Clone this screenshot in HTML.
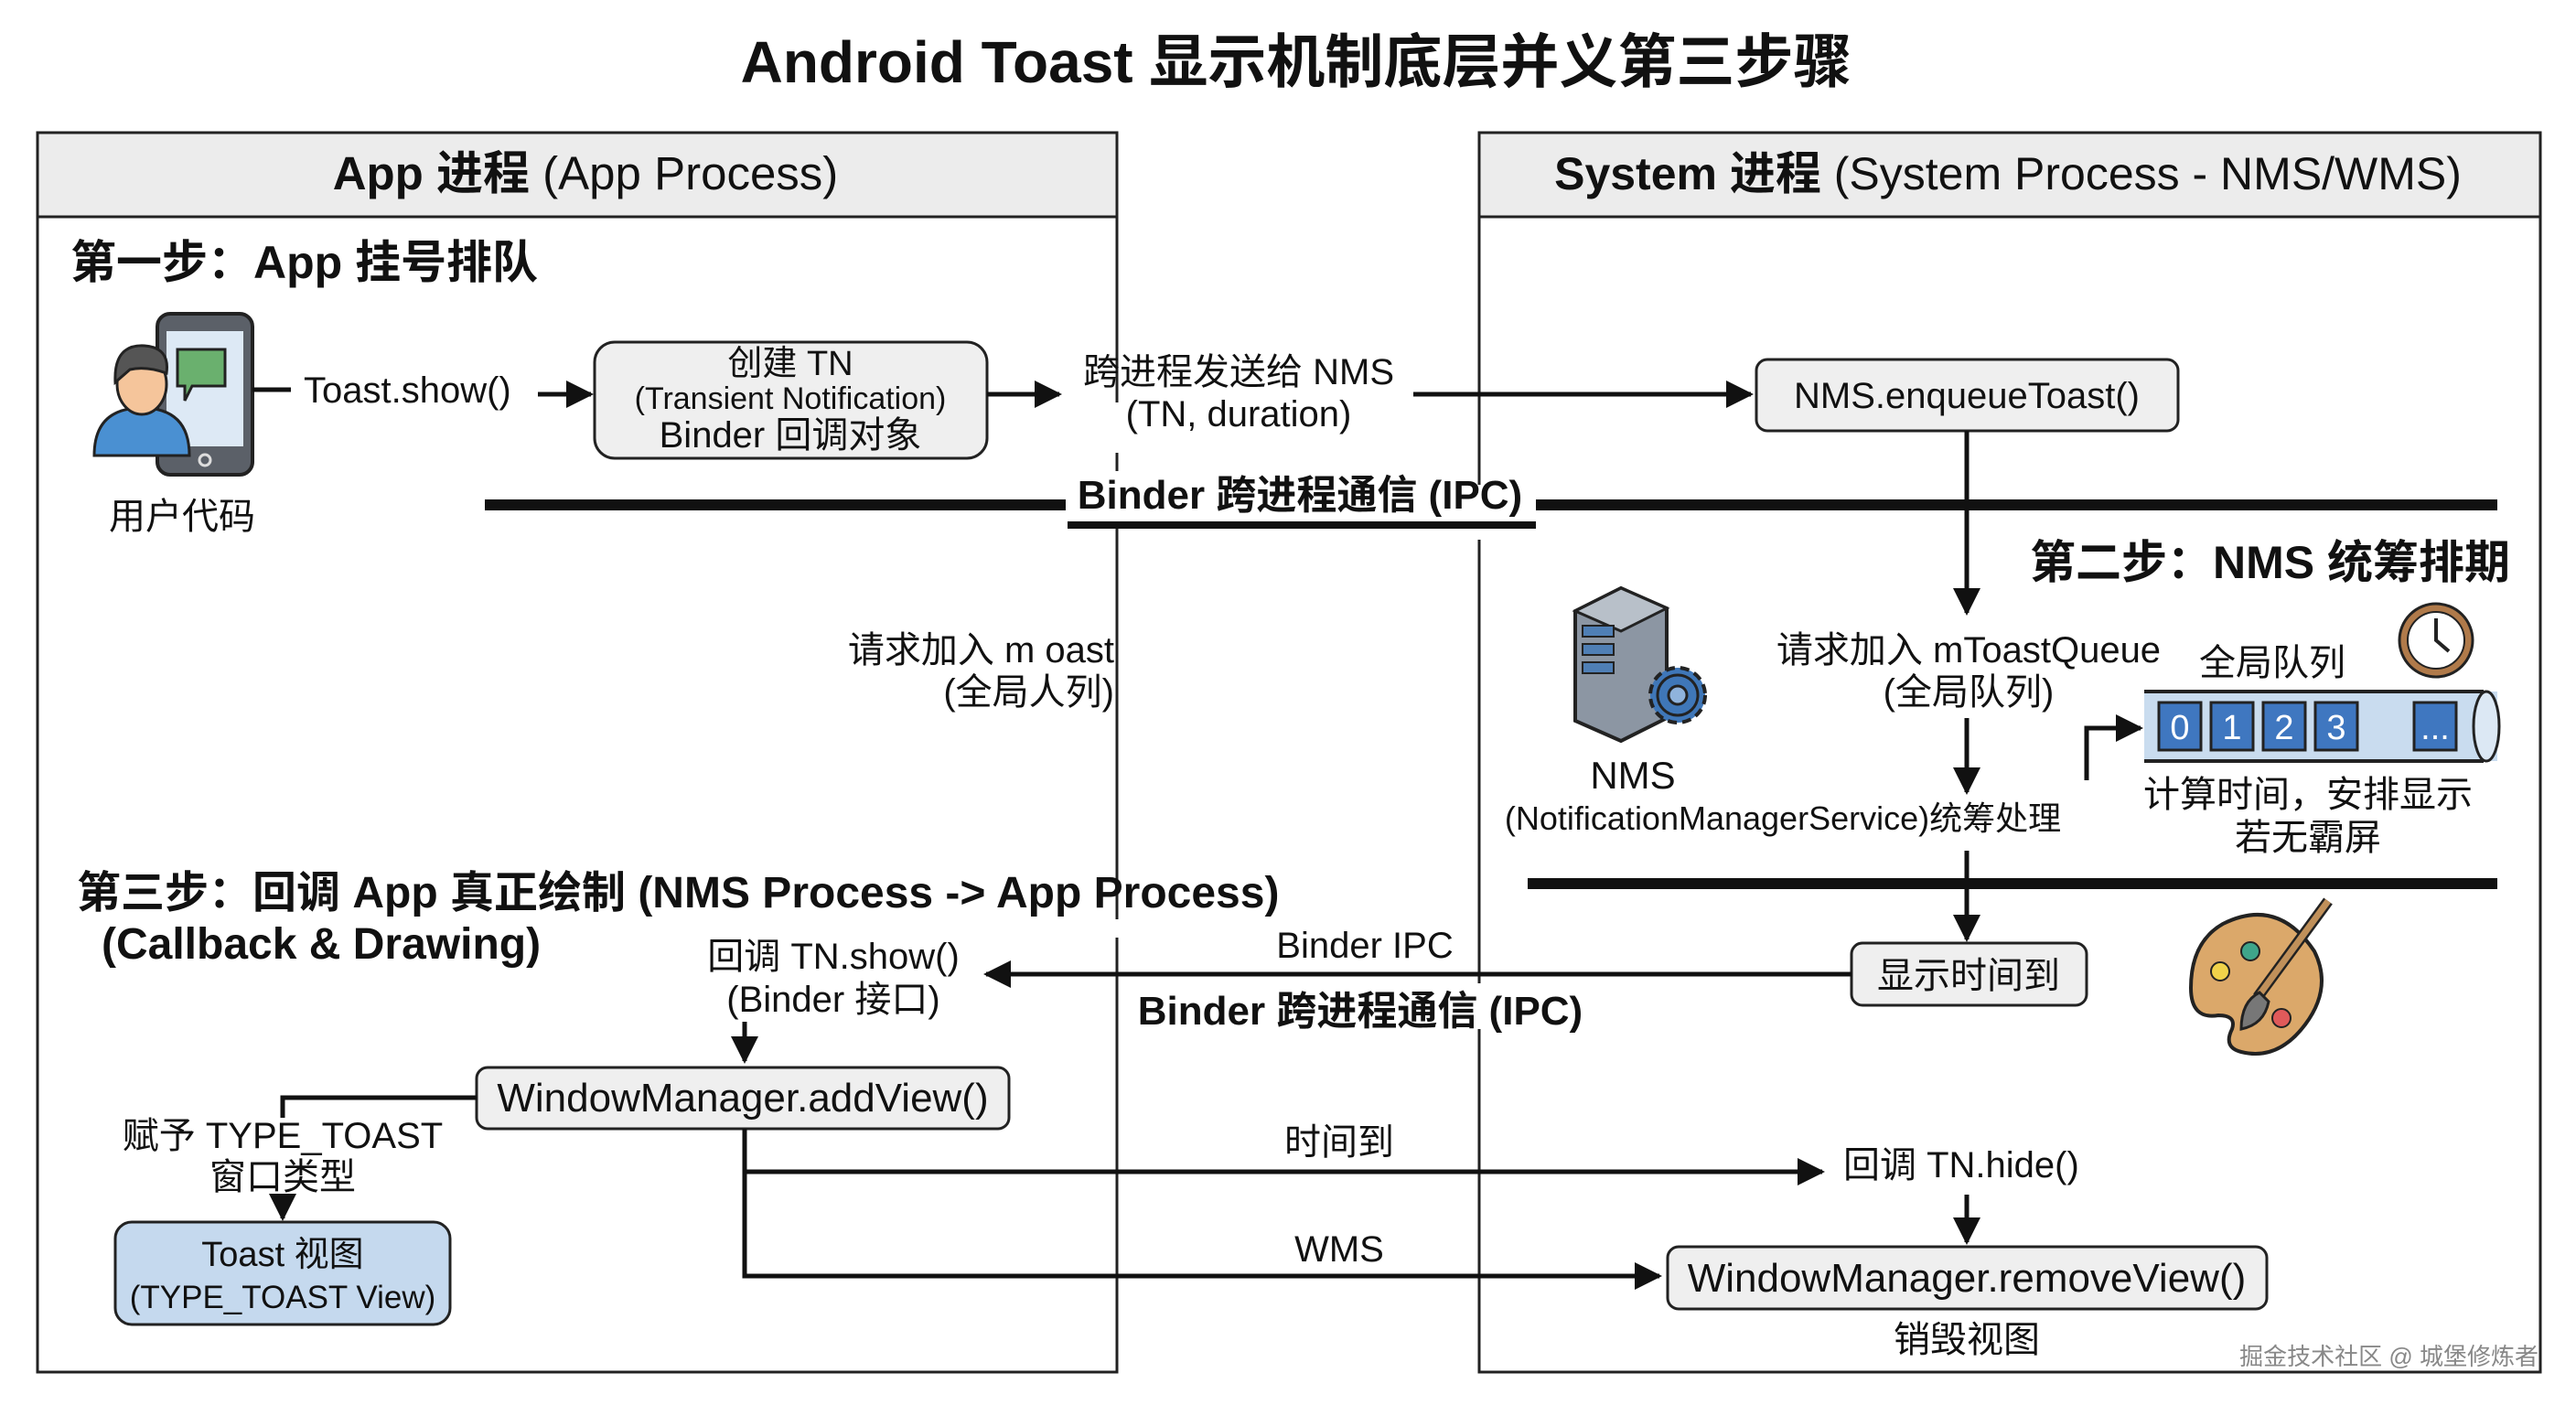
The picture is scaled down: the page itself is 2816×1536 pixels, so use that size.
<!DOCTYPE html>
<html><head><meta charset="utf-8"><style>
html,body{margin:0;padding:0;background:#fff;}
svg{display:block;}
text{font-family:"Liberation Sans","Noto Sans CJK SC",sans-serif;fill:#111;}
.b{font-weight:bold;}
</style></head><body>
<svg width="2816" height="1536" viewBox="0 0 2816 1536" xmlns="http://www.w3.org/2000/svg">
<defs>
<marker id="ah" viewBox="0 0 10 10" refX="9" refY="5" markerWidth="6" markerHeight="6" orient="auto-start-reverse" markerUnits="strokeWidth"><path d="M0,0 L10,5 L0,10 z" fill="#111"/></marker>
</defs>
<rect width="2816" height="1536" fill="#fff"/>
<text x="1417" y="90" font-size="64" class="b" text-anchor="middle">Android Toast 显示机制底层并义第三步骤</text>

<rect x="41" y="145" width="1180" height="1355" fill="#fff" stroke="#222" stroke-width="3"/>
<rect x="41" y="145" width="1180" height="92" fill="#ececec" stroke="#222" stroke-width="3"/>
<rect x="1617" y="145" width="1160" height="1355" fill="#fff" stroke="#222" stroke-width="3"/>
<rect x="1617" y="145" width="1160" height="92" fill="#ececec" stroke="#222" stroke-width="3"/>
<rect x="1212" y="440" width="18" height="55" fill="#fff"/>
<rect x="1212" y="515" width="18" height="60" fill="#fff"/>
<rect x="1212" y="1005" width="18" height="20" fill="#fff"/>
<rect x="1608" y="530" width="18" height="60" fill="#fff"/>
<rect x="1608" y="1075" width="18" height="50" fill="#fff"/>

<text x="640" y="207" font-size="51" text-anchor="middle"><tspan class="b">App 进程</tspan> (App Process)</text>
<text x="2195" y="207" font-size="50" text-anchor="middle"><tspan class="b">System 进程</tspan> (System Process - NMS/WMS)</text>

<text x="77" y="304" font-size="50" class="b">第一步：App 挂号排队</text>

<rect x="172" y="343" width="104" height="176" rx="14" fill="#5b6068" stroke="#222" stroke-width="4"/>
<rect x="182" y="362" width="84" height="126" fill="#dde9f5"/>
<circle cx="224" cy="503" r="6" fill="none" stroke="#ddd" stroke-width="3"/>
<path d="M194,382 h52 v40 h-36 l-8,16 v-16 h-8 z" fill="#6ab06e" stroke="#222" stroke-width="3"/>
<path d="M103,498 q0,-52 52,-52 q52,0 52,52 z" fill="#4a90d2" stroke="#222" stroke-width="3"/>
<ellipse cx="155" cy="420" rx="27" ry="33" fill="#f5c59b" stroke="#222" stroke-width="3"/>
<path d="M126,418 q-2,-42 32,-40 q28,2 24,30 q-22,-8 -40,-4 z" fill="#555" stroke="#222" stroke-width="3"/>
<text x="199" y="578" font-size="40" text-anchor="middle">用户代码</text>

<line x1="276" y1="426" x2="318" y2="426" stroke="#111" stroke-width="5"/>
<text x="332" y="440" font-size="40">Toast.show()</text>
<line x1="588" y1="431" x2="646" y2="431" stroke="#111" stroke-width="5" marker-end="url(#ah)"/>
<rect x="650" y="374" width="429" height="127" rx="22" fill="#efefef" stroke="#222" stroke-width="3"/>
<text x="864" y="410" font-size="38" text-anchor="middle">创建 TN</text>
<text x="864" y="447" font-size="34" text-anchor="middle">(Transient Notification)</text>
<text x="864" y="489" font-size="40" text-anchor="middle">Binder 回调对象</text>
<line x1="1079" y1="431" x2="1158" y2="431" stroke="#111" stroke-width="5" marker-end="url(#ah)"/>
<text x="1354" y="420" font-size="40" text-anchor="middle">跨进程发送给 NMS</text>
<text x="1354" y="466" font-size="40" text-anchor="middle">(TN, duration)</text>
<line x1="1545" y1="431" x2="1914" y2="431" stroke="#111" stroke-width="5" marker-end="url(#ah)"/>
<rect x="1920" y="393" width="461" height="78" rx="12" fill="#efefef" stroke="#222" stroke-width="3"/>
<text x="2150" y="446" font-size="40" text-anchor="middle">NMS.enqueueToast()</text>

<rect x="530" y="546" width="635" height="12" fill="#111"/>
<rect x="1679" y="546" width="1051" height="12" fill="#111"/>
<rect x="1167" y="570" width="512" height="8" fill="#111"/>
<text x="1421" y="556" font-size="44" class="b" text-anchor="middle">Binder 跨进程通信 (IPC)</text>

<line x1="2150" y1="471" x2="2150" y2="670" stroke="#111" stroke-width="5" marker-end="url(#ah)"/>
<text x="2744" y="632" font-size="50" class="b" text-anchor="end">第二步：NMS 统筹排期</text>

<path d="M1722,668 l50,-25 l50,22 v120 l-50,25 l-50,-22 z" fill="#8c96a3" stroke="#222" stroke-width="4"/>
<path d="M1722,668 l50,-25 l50,22 l-50,25 z" fill="#b8c0c9" stroke="#222" stroke-width="3"/>
<rect x="1730" y="684" width="34" height="12" fill="#4f7fb5" stroke="#222" stroke-width="2"/>
<rect x="1730" y="704" width="34" height="12" fill="#4f7fb5" stroke="#222" stroke-width="2"/>
<rect x="1730" y="724" width="34" height="12" fill="#4f7fb5" stroke="#222" stroke-width="2"/>
<circle cx="1834" cy="760" r="30" fill="#3f77b8" stroke="#222" stroke-width="4" stroke-dasharray="10 6"/>
<circle cx="1834" cy="760" r="22" fill="#3f77b8" stroke="#222" stroke-width="3"/>
<circle cx="1834" cy="760" r="10" fill="#8fb3dc" stroke="#222" stroke-width="3"/>
<text x="1785" y="862" font-size="42" text-anchor="middle">NMS</text>
<text x="1949" y="907" font-size="36" text-anchor="middle">(NotificationManagerService)统筹处理</text>

<text x="2152" y="724" font-size="40" text-anchor="middle">请求加入 mToastQueue</text>
<text x="2152" y="770" font-size="40" text-anchor="middle">(全局队列)</text>
<line x1="2150" y1="785" x2="2150" y2="866" stroke="#111" stroke-width="5" marker-end="url(#ah)"/>
<line x1="2150" y1="930" x2="2150" y2="1027" stroke="#111" stroke-width="5" marker-end="url(#ah)"/>

<text x="2484" y="738" font-size="40" text-anchor="middle">全局队列</text>
<circle cx="2663" cy="700" r="40" fill="#b07a4a" stroke="#222" stroke-width="3"/>
<circle cx="2663" cy="700" r="31" fill="#fff" stroke="#222" stroke-width="2"/>
<path d="M2663,676 v24 l14,12" fill="none" stroke="#222" stroke-width="4"/>
<rect x="2344" y="756" width="386" height="76" fill="#c9dcef"/>
<line x1="2344" y1="756" x2="2715" y2="756" stroke="#222" stroke-width="4"/>
<line x1="2344" y1="832" x2="2715" y2="832" stroke="#222" stroke-width="4"/>
<ellipse cx="2718" cy="794" rx="14" ry="38" fill="#dce8f4" stroke="#222" stroke-width="3"/>
<g font-size="38" text-anchor="middle">
<rect x="2360" y="768" width="46" height="52" fill="#3f77c0" stroke="#222" stroke-width="3"/><text x="2383" y="808" style="fill:#fff">0</text>
<rect x="2417" y="768" width="46" height="52" fill="#3f77c0" stroke="#222" stroke-width="3"/><text x="2440" y="808" style="fill:#fff">1</text>
<rect x="2474" y="768" width="46" height="52" fill="#3f77c0" stroke="#222" stroke-width="3"/><text x="2497" y="808" style="fill:#fff">2</text>
<rect x="2531" y="768" width="46" height="52" fill="#3f77c0" stroke="#222" stroke-width="3"/><text x="2554" y="808" style="fill:#fff">3</text>
<rect x="2639" y="768" width="46" height="52" fill="#3f77c0" stroke="#222" stroke-width="3"/><text x="2662" y="808" style="fill:#fff">...</text>
</g>
<path d="M2281,853 V796 H2340" fill="none" stroke="#111" stroke-width="5" marker-end="url(#ah)"/>
<text x="2523" y="882" font-size="40" text-anchor="middle">计算时间，安排显示</text>
<text x="2523" y="929" font-size="40" text-anchor="middle">若无霸屏</text>

<rect x="1670" y="960" width="1060" height="12" fill="#111"/>

<rect x="2024" y="1031" width="257" height="68" rx="12" fill="#efefef" stroke="#222" stroke-width="3"/>
<text x="2152" y="1080" font-size="40" text-anchor="middle">显示时间到</text>

<path d="M2430,1010 q60,-30 100,30 q20,40 -10,80 q-30,40 -70,30 q-20,-5 -10,-25 q5,-15 -15,-15 q-30,5 -30,-30 q0,-50 35,-70 z" fill="#dba86a" stroke="#222" stroke-width="4"/>
<circle cx="2427" cy="1062" r="10" fill="#f0d24a" stroke="#222" stroke-width="2"/>
<circle cx="2460" cy="1040" r="10" fill="#3fa58a" stroke="#222" stroke-width="2"/>
<circle cx="2494" cy="1113" r="10" fill="#e05a5a" stroke="#222" stroke-width="2"/>
<line x1="2468" y1="1090" x2="2545" y2="985" stroke="#222" stroke-width="12"/>
<line x1="2468" y1="1090" x2="2545" y2="985" stroke="#c0905a" stroke-width="7"/>
<path d="M2470,1085 q-20,10 -20,40 q25,-5 30,-30 z" fill="#777" stroke="#222" stroke-width="3"/>

<line x1="2024" y1="1065" x2="1078" y2="1065" stroke="#111" stroke-width="5" marker-end="url(#ah)"/>
<text x="1492" y="1047" font-size="40" text-anchor="middle">Binder IPC</text>
<text x="1487" y="1120" font-size="44" class="b" text-anchor="middle">Binder 跨进程通信 (IPC)</text>

<text x="1218" y="724" font-size="40" text-anchor="end">请求加入 m oast</text>
<text x="1218" y="770" font-size="40" text-anchor="end">(全局人列)</text>

<text x="84" y="992" font-size="48" class="b">第三步：回调 App 真正绘制 (NMS Process -&gt; App Process)</text>
<text x="111" y="1048" font-size="48" class="b">(Callback &amp; Drawing)</text>
<text x="911" y="1059" font-size="40" text-anchor="middle">回调 TN.show()</text>
<text x="911" y="1106" font-size="40" text-anchor="middle">(Binder 接口)</text>
<line x1="814" y1="1117" x2="814" y2="1160" stroke="#111" stroke-width="5" marker-end="url(#ah)"/>
<rect x="521" y="1167" width="582" height="67" rx="12" fill="#efefef" stroke="#222" stroke-width="3"/>
<text x="812" y="1215" font-size="44" text-anchor="middle">WindowManager.addView()</text>
<path d="M521,1200 H309 V1222" fill="none" stroke="#111" stroke-width="5"/>
<text x="309" y="1255" font-size="40" text-anchor="middle">赋予 TYPE_TOAST</text>
<text x="309" y="1300" font-size="40" text-anchor="middle">窗口类型</text>
<line x1="309" y1="1310" x2="309" y2="1332" stroke="#111" stroke-width="5" marker-end="url(#ah)"/>
<rect x="126" y="1336" width="366" height="112" rx="18" fill="#c5d9ee" stroke="#222" stroke-width="3"/>
<text x="309" y="1384" font-size="38" text-anchor="middle">Toast 视图</text>
<text x="309" y="1430" font-size="35" text-anchor="middle">(TYPE_TOAST View)</text>

<path d="M814,1234 V1395 H1814" fill="none" stroke="#111" stroke-width="5" marker-end="url(#ah)"/>
<path d="M814,1281 H1992" fill="none" stroke="#111" stroke-width="5" marker-end="url(#ah)"/>
<text x="1464" y="1262" font-size="40" text-anchor="middle">时间到</text>
<text x="1464" y="1379" font-size="40" text-anchor="middle">WMS</text>
<text x="2015" y="1287" font-size="40">回调 TN.hide()</text>
<line x1="2150" y1="1306" x2="2150" y2="1358" stroke="#111" stroke-width="5" marker-end="url(#ah)"/>
<rect x="1823" y="1363" width="655" height="68" rx="12" fill="#efefef" stroke="#222" stroke-width="3"/>
<text x="2150" y="1412" font-size="44" text-anchor="middle">WindowManager.removeView()</text>
<text x="2150" y="1478" font-size="40" text-anchor="middle">销毁视图</text>
<text x="2775" y="1492" font-size="26" text-anchor="end" style="fill:#888">掘金技术社区 @ 城堡修炼者</text>
</svg>
</body></html>
